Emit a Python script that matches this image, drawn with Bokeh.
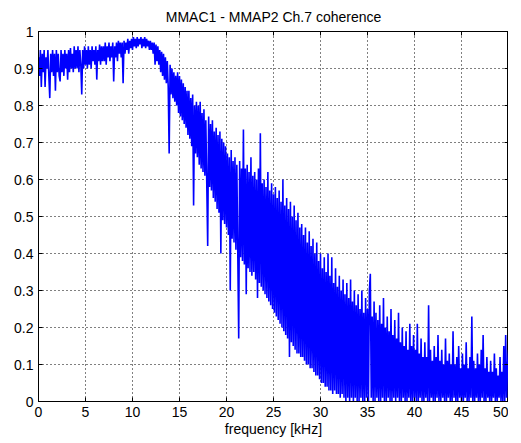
from bokeh.plotting import figure
from bokeh.models import LinearAxis, FixedTicker, CustomJSTickFormatter, Range1d
from bokeh.embed import file_html
from bokeh.resources import INLINE

title_text = "MMAC1 - MMAP2 Ch.7 coherence"
x_label = "frequency [kHz]"
x_ticks = [0, 5, 10, 15, 20, 25, 30, 35, 40, 45, 50]
y_ticks = [0, 0.1, 0.2, 0.3, 0.4, 0.5, 0.6, 0.7, 0.8, 0.9, 1]

freq_step = 0.1  # kHz between readings (one row = 1 kHz)
coherence = [
    0.93, 0.88, 0.95, 0.85, 0.94, 0.89, 0.95, 0.85, 0.93, 0.90,
    0.95, 0.88, 0.82, 0.94, 0.89, 0.95, 0.88, 0.94, 0.84, 0.95,
    0.89, 0.94, 0.88, 0.865, 0.95, 0.89, 0.94, 0.88, 0.95, 0.90,
    0.94, 0.87, 0.95, 0.89, 0.955, 0.90, 0.94, 0.89, 0.96, 0.90,
    0.95, 0.90, 0.96, 0.89, 0.95, 0.91, 0.83, 0.95, 0.90, 0.96,
    0.91, 0.95, 0.90, 0.96, 0.91, 0.95, 0.90, 0.96, 0.92, 0.95,
    0.91, 0.96, 0.87, 0.95, 0.92, 0.965, 0.91, 0.96, 0.92, 0.96,
    0.92, 0.97, 0.91, 0.96, 0.93, 0.97, 0.92, 0.96, 0.93, 0.97,
    0.865, 0.96, 0.93, 0.97, 0.92, 0.975, 0.94, 0.97, 0.93, 0.97,
    0.86, 0.975, 0.94, 0.97, 0.95, 0.98, 0.94, 0.975, 0.955, 0.98,
    0.95, 0.985, 0.96, 0.98, 0.955, 0.985, 0.96, 0.98, 0.965, 0.985,
    0.955, 0.98, 0.96, 0.985, 0.955, 0.98, 0.96, 0.975, 0.95, 0.975,
    0.95, 0.97, 0.94, 0.97, 0.91, 0.965, 0.92, 0.96, 0.91, 0.95,
    0.89, 0.945, 0.88, 0.94, 0.87, 0.93, 0.86, 0.92, 0.85, 0.67,
    0.91, 0.83, 0.90, 0.82, 0.89, 0.81, 0.88, 0.80, 0.89, 0.78,
    0.88, 0.77, 0.87, 0.76, 0.86, 0.75, 0.85, 0.74, 0.84, 0.72,
    0.84, 0.71, 0.82, 0.69, 0.83, 0.53, 0.80, 0.67, 0.81, 0.66,
    0.80, 0.64, 0.81, 0.63, 0.78, 0.62, 0.79, 0.61, 0.76, 0.59,
    0.42, 0.77, 0.58, 0.75, 0.57, 0.76, 0.55, 0.73, 0.54, 0.74,
    0.52, 0.72, 0.51, 0.73, 0.40, 0.71, 0.49, 0.70, 0.48, 0.69,
    0.47, 0.67, 0.45, 0.66, 0.30, 0.68, 0.44, 0.65, 0.43, 0.66,
    0.41, 0.64, 0.40, 0.17, 0.65, 0.39, 0.63, 0.38, 0.735, 0.37,
    0.63, 0.29, 0.64, 0.36, 0.62, 0.35, 0.66, 0.34, 0.61, 0.35,
    0.62, 0.33, 0.60, 0.28, 0.63, 0.32, 0.725, 0.31, 0.59, 0.30,
    0.60, 0.29, 0.58, 0.28, 0.62, 0.27, 0.57, 0.26, 0.59, 0.25,
    0.56, 0.24, 0.58, 0.23, 0.55, 0.22, 0.57, 0.21, 0.54, 0.20,
    0.60, 0.19, 0.53, 0.18, 0.55, 0.17, 0.52, 0.12, 0.54, 0.16,
    0.50, 0.15, 0.53, 0.14, 0.49, 0.13, 0.51, 0.13, 0.47, 0.12,
    0.48, 0.12, 0.45, 0.11, 0.47, 0.10, 0.43, 0.10, 0.46, 0.09,
    0.42, 0.09, 0.44, 0.08, 0.40, 0.07, 0.43, 0.07, 0.38, 0.06,
    0.40, 0.05, 0.36, 0.05, 0.39, 0.04, 0.35, 0.04, 0.40, 0.03,
    0.34, 0.03, 0.39, 0.02, 0.32, 0.03, 0.36, 0.02, 0.31, 0.02,
    0.34, 0.01, 0.30, 0.02, 0.33, 0.01, 0.29, 0.0, 0.32, 0.01,
    0.28, 0.0, 0.33, 0.01, 0.27, 0.0, 0.30, 0.01, 0.26, 0.0,
    0.29, 0.0, 0.25, 0.01, 0.30, 0.0, 0.24, 0.0, 0.28, 0.01,
    0.25, 0.0, 0.30, 0.345, 0.01, 0.23, 0.0, 0.27, 0.0, 0.24,
    0.01, 0.22, 0.0, 0.26, 0.0, 0.21, 0.01, 0.28, 0.0, 0.20,
    0.0, 0.23, 0.01, 0.19, 0.0, 0.25, 0.0, 0.18, 0.01, 0.22,
    0.0, 0.17, 0.01, 0.24, 0.0, 0.16, 0.0, 0.20, 0.01, 0.15,
    0.0, 0.19, 0.0, 0.14, 0.01, 0.21, 0.0, 0.15, 0.0, 0.18,
    0.01, 0.14, 0.0, 0.21, 0.0, 0.13, 0.01, 0.17, 0.0, 0.12,
    0.0, 0.16, 0.01, 0.12, 0.0, 0.26, 0.0, 0.14, 0.01, 0.11,
    0.0, 0.15, 0.0, 0.12, 0.01, 0.18, 0.0, 0.11, 0.0, 0.14,
    0.01, 0.10, 0.0, 0.17, 0.0, 0.11, 0.01, 0.13, 0.0, 0.10,
    0.0, 0.19, 0.01, 0.10, 0.0, 0.12, 0.0, 0.15, 0.01, 0.09,
    0.0, 0.13, 0.0, 0.10, 0.01, 0.16, 0.0, 0.09, 0.0, 0.12,
    0.01, 0.23, 0.0, 0.11, 0.0, 0.09, 0.01, 0.13, 0.0, 0.10,
    0.0, 0.14, 0.01, 0.18, 0.0, 0.09, 0.0, 0.12, 0.01, 0.08,
    0.0, 0.11, 0.0, 0.08, 0.01, 0.13, 0.0, 0.09, 0.0, 0.07,
    0.01, 0.12, 0.0, 0.08, 0.0, 0.15, 0.0, 0.18, 0.01, 0.10,
    0.14,
]
frequency = [round(i * freq_step, 3) for i in range(len(coherence))]

FONT = "Liberation Sans"

p = figure(
    frame_width=470, frame_height=370,
    x_range=Range1d(0, 50), y_range=Range1d(0, 1),
    output_backend="svg", toolbar_location=None,
    title=title_text,
    min_border_left=38, min_border_top=0, min_border_right=0, min_border_bottom=0,
)
p.background_fill_color = "white"
p.border_fill_color = "white"
p.outline_line_color = "black"
p.outline_line_width = 1

p.title.align = "center"
p.title.text_font = FONT
p.title.text_font_size = "14px"
p.title.text_font_style = "normal"
p.title.text_color = "black"
p.title.standoff = 13

fmt = CustomJSTickFormatter(code="return String(Number(tick.toFixed(2)));")
blank_fmt = CustomJSTickFormatter(code="return '';")

def style_axis(ax, ticks, show_labels):
    ax.ticker = FixedTicker(ticks=ticks)
    ax.formatter = fmt if show_labels else blank_fmt
    ax.axis_line_color = "black"
    ax.major_tick_line_color = "black"
    ax.major_tick_in = 4
    ax.major_tick_out = 0
    ax.minor_tick_line_color = None
    ax.major_label_text_font = FONT
    ax.major_label_text_font_size = "14px"
    ax.major_label_text_color = "black"
    if not show_labels:
        ax.major_label_standoff = 0

style_axis(p.xaxis[0], x_ticks, True)
style_axis(p.yaxis[0], y_ticks, True)
p.xaxis[0].major_label_standoff = 5
p.yaxis[0].major_label_standoff = 5
p.xaxis[0].axis_label = x_label
p.xaxis[0].axis_label_text_font = FONT
p.xaxis[0].axis_label_text_font_size = "14px"
p.xaxis[0].axis_label_text_font_style = "normal"
p.xaxis[0].axis_label_text_color = "black"
p.xaxis[0].axis_label_standoff = 1

top_axis = LinearAxis()
style_axis(top_axis, x_ticks, False)
p.add_layout(top_axis, "above")
right_axis = LinearAxis()
style_axis(right_axis, y_ticks, False)
p.add_layout(right_axis, "right")

for g in (p.xgrid[0], p.ygrid[0]):
    g.grid_line_color = "black"
    g.grid_line_dash = "1 3"
    g.grid_line_width = 1
    g.grid_line_alpha = 1
p.xgrid[0].ticker = FixedTicker(ticks=x_ticks)
p.ygrid[0].ticker = FixedTicker(ticks=y_ticks)

p.line(frequency, coherence, line_color="#0000ff", line_width=1.6)

open("out.html", "w").write(file_html(p, INLINE))
